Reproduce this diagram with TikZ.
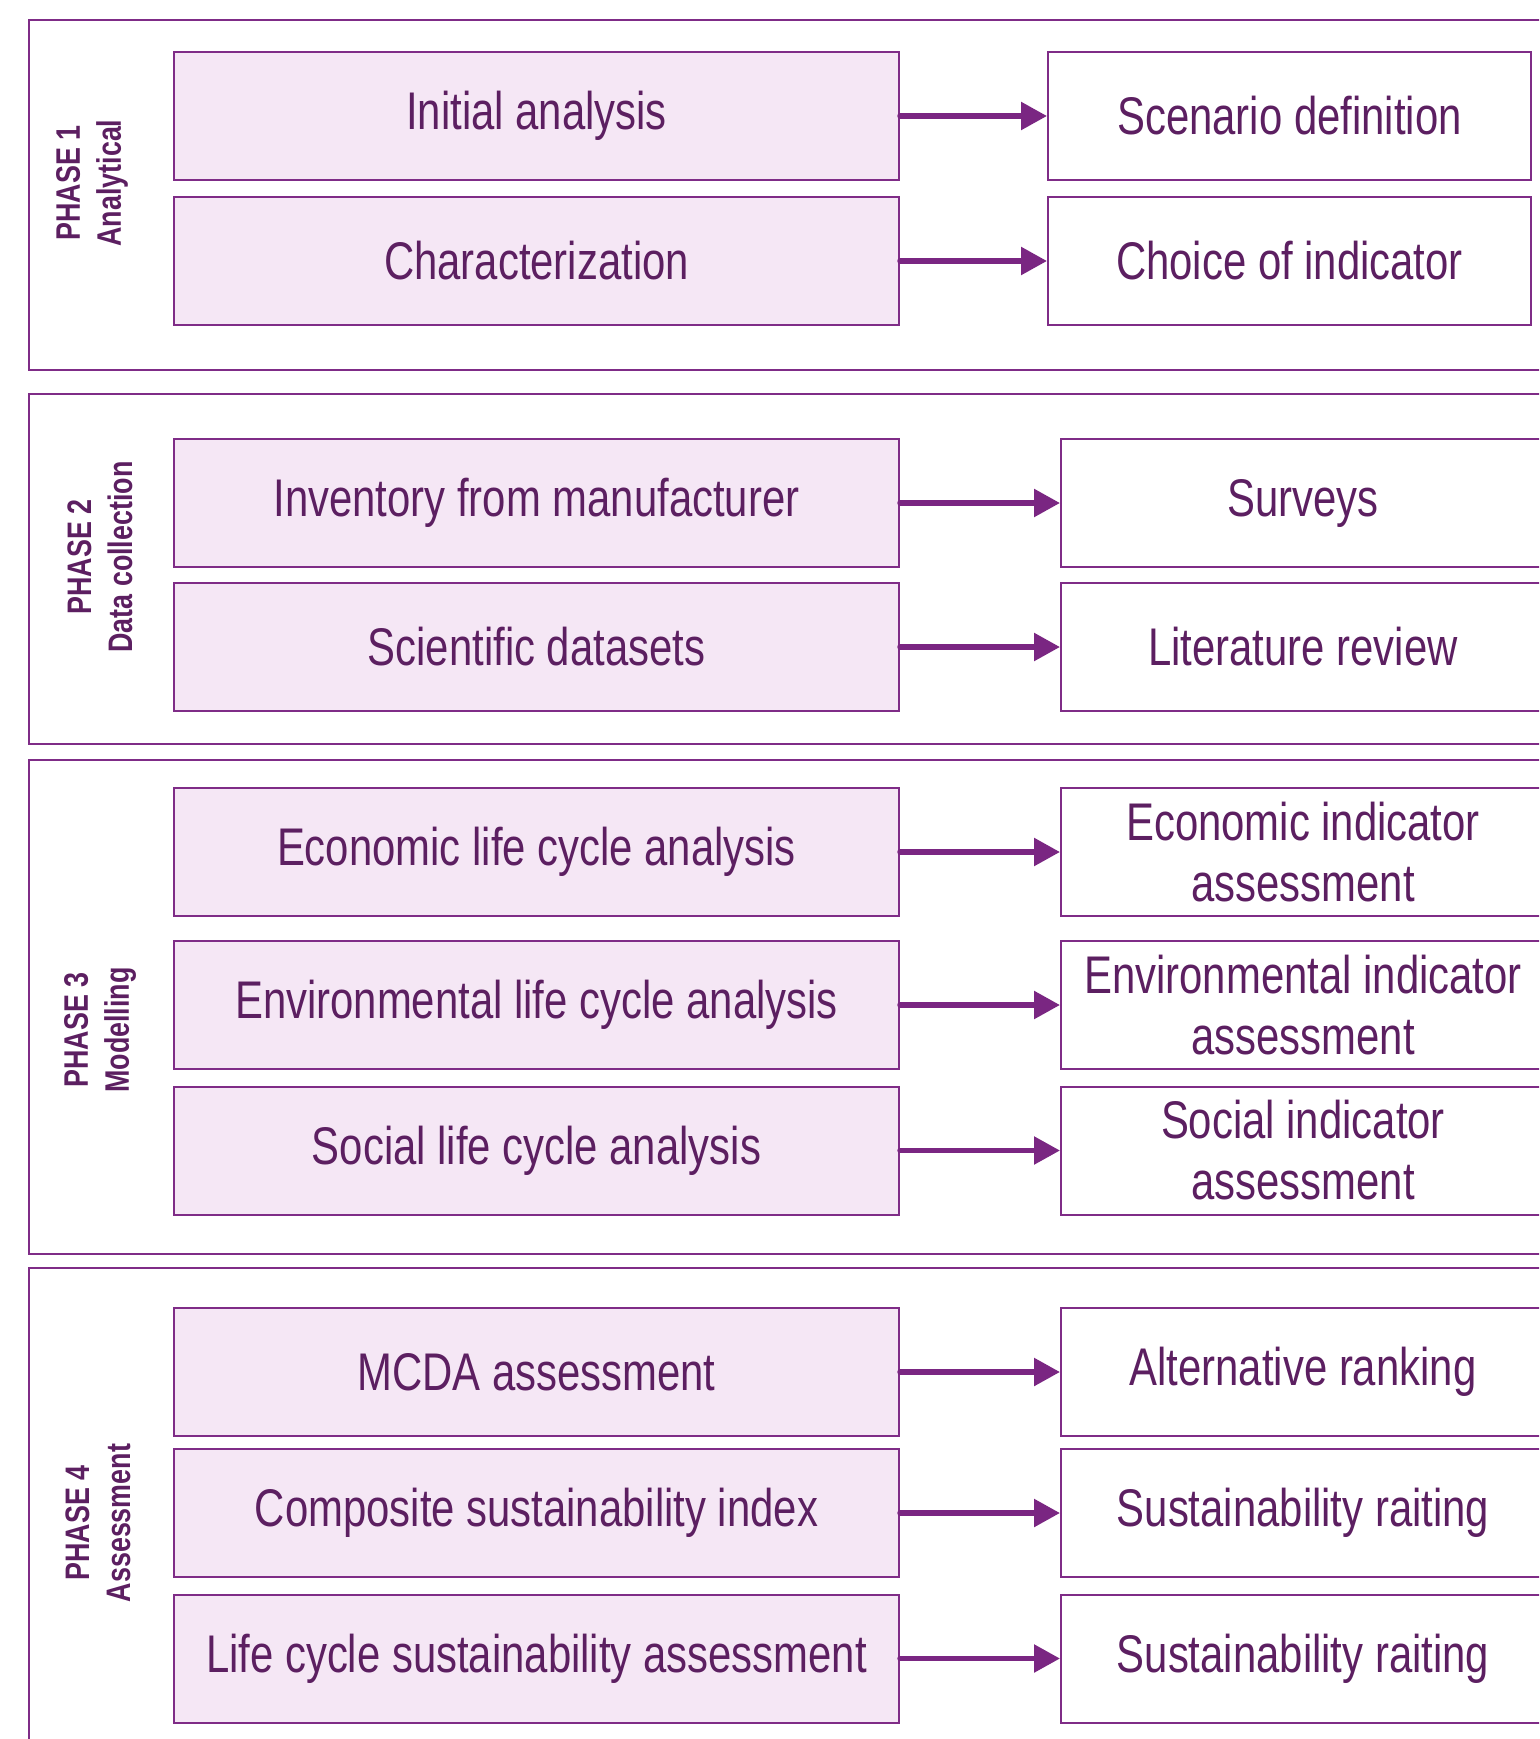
\documentclass[tikz,border=0pt]{standalone}
\usepackage{fontspec}
\setmainfont{Liberation Sans}[FakeStretch=0.79]
\usetikzlibrary{arrows.meta}
\definecolor{pborder}{HTML}{7F2C87}
\definecolor{pfill}{HTML}{F5E7F5}
\definecolor{ptext}{HTML}{5C1F61}
\definecolor{parrow}{HTML}{7A2682}
\tikzset{
  basebox/.style={draw=pborder, line width=2pt, text=ptext, align=center, inner sep=0pt,
    minimum height=128pt, font=\fontsize{53}{61}\selectfont},
  lbox/.style={basebox, fill=pfill, minimum width=725pt},
  rbox/.style={basebox, fill=white, minimum width=484pt},
  rboxa/.style={basebox, fill=white, minimum width=483pt},
  frame/.style={draw=pborder, line width=2pt, inner sep=0pt},
  plabel/.style={rotate=90, align=center, text=ptext, inner sep=0pt,
    font=\fontsize{34}{41}\selectfont\bfseries},
  arr/.style={draw=parrow, line width=5.5pt, line cap=round, -{Triangle[length=26pt,width=27pt]}}
}
\begin{document}
\begin{tikzpicture}[x=1pt,y=-1pt]
\clip (0,0) rectangle (1539,1739);
\fill[white] (0,0) rectangle (1539,1739);
% phase frames
\node[frame, minimum width=1516pt, minimum height=350pt] (f1) at (787,195) {};
\node[frame, minimum width=1516pt, minimum height=350pt] (f2) at (787,569) {};
\node[frame, minimum width=1516pt, minimum height=494pt] (f3) at (787,1007) {};
\node[frame, minimum width=1516pt, minimum height=492pt] (f4) at (787,1514) {};
% phase labels
\node[plabel] (p1) at (92,183) {PHASE 1\\Analytical};
\node[plabel] (p2) at (100,557) {PHASE 2\\Data collection};
\node[plabel] (p3) at (100,1030) {PHASE 3\\Modelling};
\node[plabel] (p4) at (98,1523) {PHASE 4\\Assessment};
% phase 1
\node[lbox] (a1) at (536.5,116) {Initial analysis};
\node[lbox] (a2) at (536.5,261) {Characterization};
\node[rboxa] (b1) at (1289.5,116) {Scenario definition};
\node[rboxa] (b2) at (1289.5,261) {Choice of indicator};
% phase 2
\node[lbox] (c1) at (536.5,503) {Inventory from manufacturer};
\node[lbox] (c2) at (536.5,647) {Scientific datasets};
\node[rbox] (d1) at (1303,503) {Surveys};
\node[rbox] (d2) at (1303,647) {Literature review};
% phase 3
\node[lbox] (e1) at (536.5,852) {Economic life cycle analysis};
\node[lbox] (e2) at (536.5,1005) {Environmental life cycle analysis};
\node[lbox] (e3) at (536.5,1150.5) {Social life cycle analysis};
\node[rbox] (g1) at (1303,852) {Economic indicator\\assessment};
\node[rbox] (g2) at (1303,1005) {Environmental indicator\\assessment};
\node[rbox] (g3) at (1303,1150.5) {Social indicator\\assessment};
% phase 4
\node[lbox] (h1) at (536.5,1372) {MCDA assessment};
\node[lbox] (h2) at (536.5,1513) {Composite sustainability index};
\node[lbox] (h3) at (536.5,1658.5) {Life cycle sustainability assessment};
\node[rbox] (k1) at (1303,1372) {Alternative ranking};
\node[rbox] (k2) at (1303,1513) {Sustainability raiting};
\node[rbox] (k3) at (1303,1658.5) {Sustainability raiting};
% arrows
\foreach \s/\t in {a1/b1,a2/b2,c1/d1,c2/d2,e1/g1,e2/g2,e3/g3,h1/k1,h2/k2,h3/k3}
  \draw[arr] (\s.east) -- (\t.west);
\end{tikzpicture}
\end{document}
